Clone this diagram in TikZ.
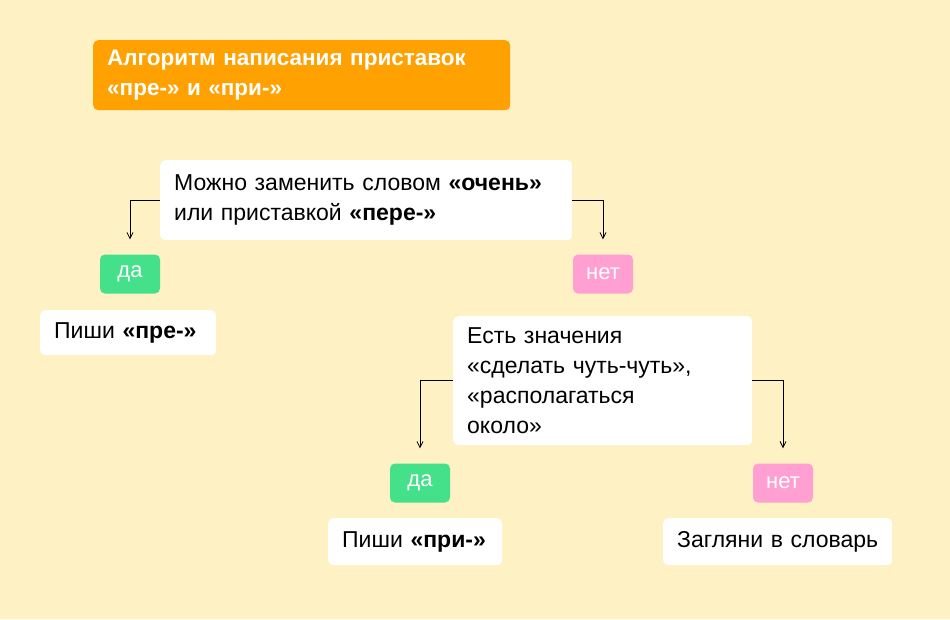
\documentclass[tikz,border=0pt]{standalone}
\usepackage{fontspec}
\setmainfont{Liberation Sans}
\usetikzlibrary{arrows.meta}
\definecolor{bg}{HTML}{FEF1C4}
\definecolor{orange}{HTML}{FFA100}
\definecolor{grn}{HTML}{45E08A}
\definecolor{pnk}{HTML}{FF9FD2}
\tikzset{
 wbox/.style={fill=white,rounded corners=5pt,align=left,inner xsep=14pt,inner ysep=0pt,font=\fontsize{23}{30}\selectfont,anchor=north west},
 tag/.style={rounded corners=5pt,text=white,minimum width=60pt,minimum height=39pt,inner sep=0pt,font=\fontsize{22}{24}\selectfont},
 arr/.style={-{Straight Barb[length=6pt,width=6pt]},line width=0.8pt,shorten >=15pt}
}
\begin{document}
\begin{tikzpicture}[x=1pt,y=-1pt]
\fill[bg] (0,0) rectangle (950,619);
\useasboundingbox (0,0) rectangle (950,619);
\node[wbox,fill=orange,text=white,font=\fontsize{22.5}{30}\selectfont\bfseries,text width=389pt,minimum height=70pt] (t) at (93,40) {\mbox{Алгоритм написания приставок}\\\mbox{«пре-» и «при-»}};
\node[wbox,text width=384pt,minimum height=80pt] (b1) at (160,160) {\mbox{Можно заменить словом \textbf{«очень»}}\\\mbox{или приставкой \textbf{«пере-»}}};
\node[tag,fill=grn] (da1) at (130,274) {да};
\node[tag,fill=pnk] (net1) at (603,274) {нет};
\node[wbox,text width=148pt,minimum height=45pt] (pre) at (40,310) {\mbox{Пиши \textbf{«пре-»}}};
\node[wbox,text width=271pt,minimum height=129pt] (b2) at (453,316) {\mbox{Есть значения}\\\mbox{«сделать чуть-чуть»,}\\\mbox{«располагаться}\\\mbox{около»}};
\node[tag,fill=grn] (da2) at (420,483) {да};
\node[tag,fill=pnk] (net2) at (783,483) {нет};
\node[wbox,text width=146pt,minimum height=47pt] (pri) at (328,518) {\mbox{Пиши \textbf{«при-»}}};
\node[wbox,text width=201pt,minimum height=47pt] (sl) at (663,518) {\mbox{Загляни в словарь}};
\draw[arr] (b1.west) -| (da1.north);
\draw[arr] (b1.east) -| (net1.north);
\draw[arr] (b2.west) -| (da2.north);
\draw[arr] (b2.east) -| (net2.north);
\end{tikzpicture}
\end{document}
